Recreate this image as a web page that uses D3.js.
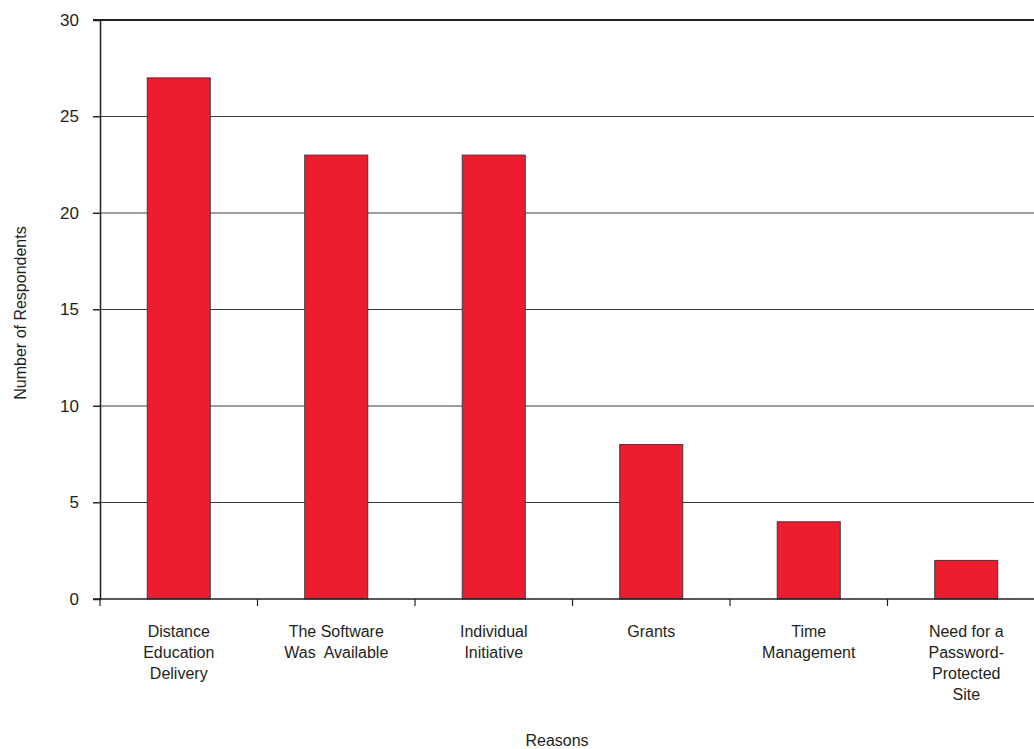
<!DOCTYPE html>
<html>
<head>
<meta charset="utf-8">
<script src="https://cdn.jsdelivr.net/npm/d3@7"></script>
<style>
  body { margin: 0; background: #fff; }
  text { font-family: "Liberation Sans", Arial, sans-serif; fill: #231f20; }
</style>
</head>
<body>
<svg id="chart" width="1034" height="749"></svg>
<script>
const categories = [
  ["Distance", "Education", "Delivery"],
  ["The Software", "Was  Available"],
  ["Individual", "Initiative"],
  ["Grants"],
  ["Time", "Management"],
  ["Need for a", "Password-", "Protected", "Site"]
];
const values = [27, 23, 23, 8, 4, 2];
const yTicks = [0, 5, 10, 15, 20, 25, 30];

const svg = d3.select("#chart");
const mLeft = 100, mRight = 1045, mTop = 20, mBottom = 599;

const x = d3.scaleBand().domain(d3.range(values.length)).range([mLeft, mRight]);
const y = d3.scaleLinear().domain([0, 30]).range([mBottom, mTop]);

// gridlines
svg.append("g")
  .selectAll("line")
  .data(yTicks.filter(d => d > 0 && d < 30))
  .join("line")
  .attr("x1", mLeft - 7).attr("x2", 1034)
  .attr("y1", d => y(d)).attr("y2", d => y(d))
  .attr("stroke", "#3a3a3a").attr("stroke-width", 1);

// top line
svg.append("line")
  .attr("x1", mLeft - 7).attr("x2", 1034)
  .attr("y1", y(30)).attr("y2", y(30))
  .attr("stroke", "#231f20").attr("stroke-width", 2);

// bars
const bw = x.bandwidth() * 0.4;
svg.append("g")
  .selectAll("rect")
  .data(values)
  .join("rect")
  .attr("x", (d, i) => x(i) + x.bandwidth() * 0.3)
  .attr("width", bw)
  .attr("y", d => y(d))
  .attr("height", d => y(0) - y(d))
  .attr("fill", "#ed1c2e")
  .attr("stroke", "#3a3a3a")
  .attr("stroke-width", 1);

// y axis
const yAxis = svg.append("g")
  .attr("transform", `translate(${mLeft},0)`)
  .call(d3.axisLeft(y).tickValues(yTicks).tickSize(7).tickPadding(14));
yAxis.select(".domain").attr("stroke", "#231f20").attr("stroke-width", 1.5);
yAxis.selectAll(".tick line").attr("stroke", "#231f20");
yAxis.selectAll(".tick text").style("font-size", "17px").attr("fill", "#231f20");

// x axis
const xAxis = svg.append("g")
  .attr("transform", `translate(0,${mBottom})`);
xAxis.append("line")
  .attr("x1", mLeft - 7).attr("x2", 1034)
  .attr("stroke", "#231f20").attr("stroke-width", 1.5);
xAxis.selectAll("line.tk")
  .data(d3.range(values.length))
  .join("line")
  .attr("class", "tk")
  .attr("x1", i => x(i)).attr("x2", i => x(i))
  .attr("y1", 0).attr("y2", 7)
  .attr("stroke", "#231f20").attr("stroke-width", 1.2);

// category labels
const lab = svg.append("g");
categories.forEach((lines, i) => {
  const cx = x(i) + x.bandwidth() / 2;
  const t = lab.append("text")
    .attr("x", cx)
    .attr("y", 637)
    .attr("text-anchor", "middle")
    .style("font-size", "16px")
    .style("white-space", "pre");
  lines.forEach((s, j) => {
    t.append("tspan")
      .attr("x", cx)
      .attr("dy", j === 0 ? 0 : 21)
      .text(s);
  });
});

// axis titles
svg.append("text")
  .attr("x", 557).attr("y", 746)
  .attr("text-anchor", "middle")
  .style("font-size", "16px")
  .text("Reasons");

svg.append("text")
  .attr("transform", "translate(26,313) rotate(-90)")
  .attr("text-anchor", "middle")
  .style("font-size", "16px")
  .text("Number of Respondents");
</script>
</body>
</html>
